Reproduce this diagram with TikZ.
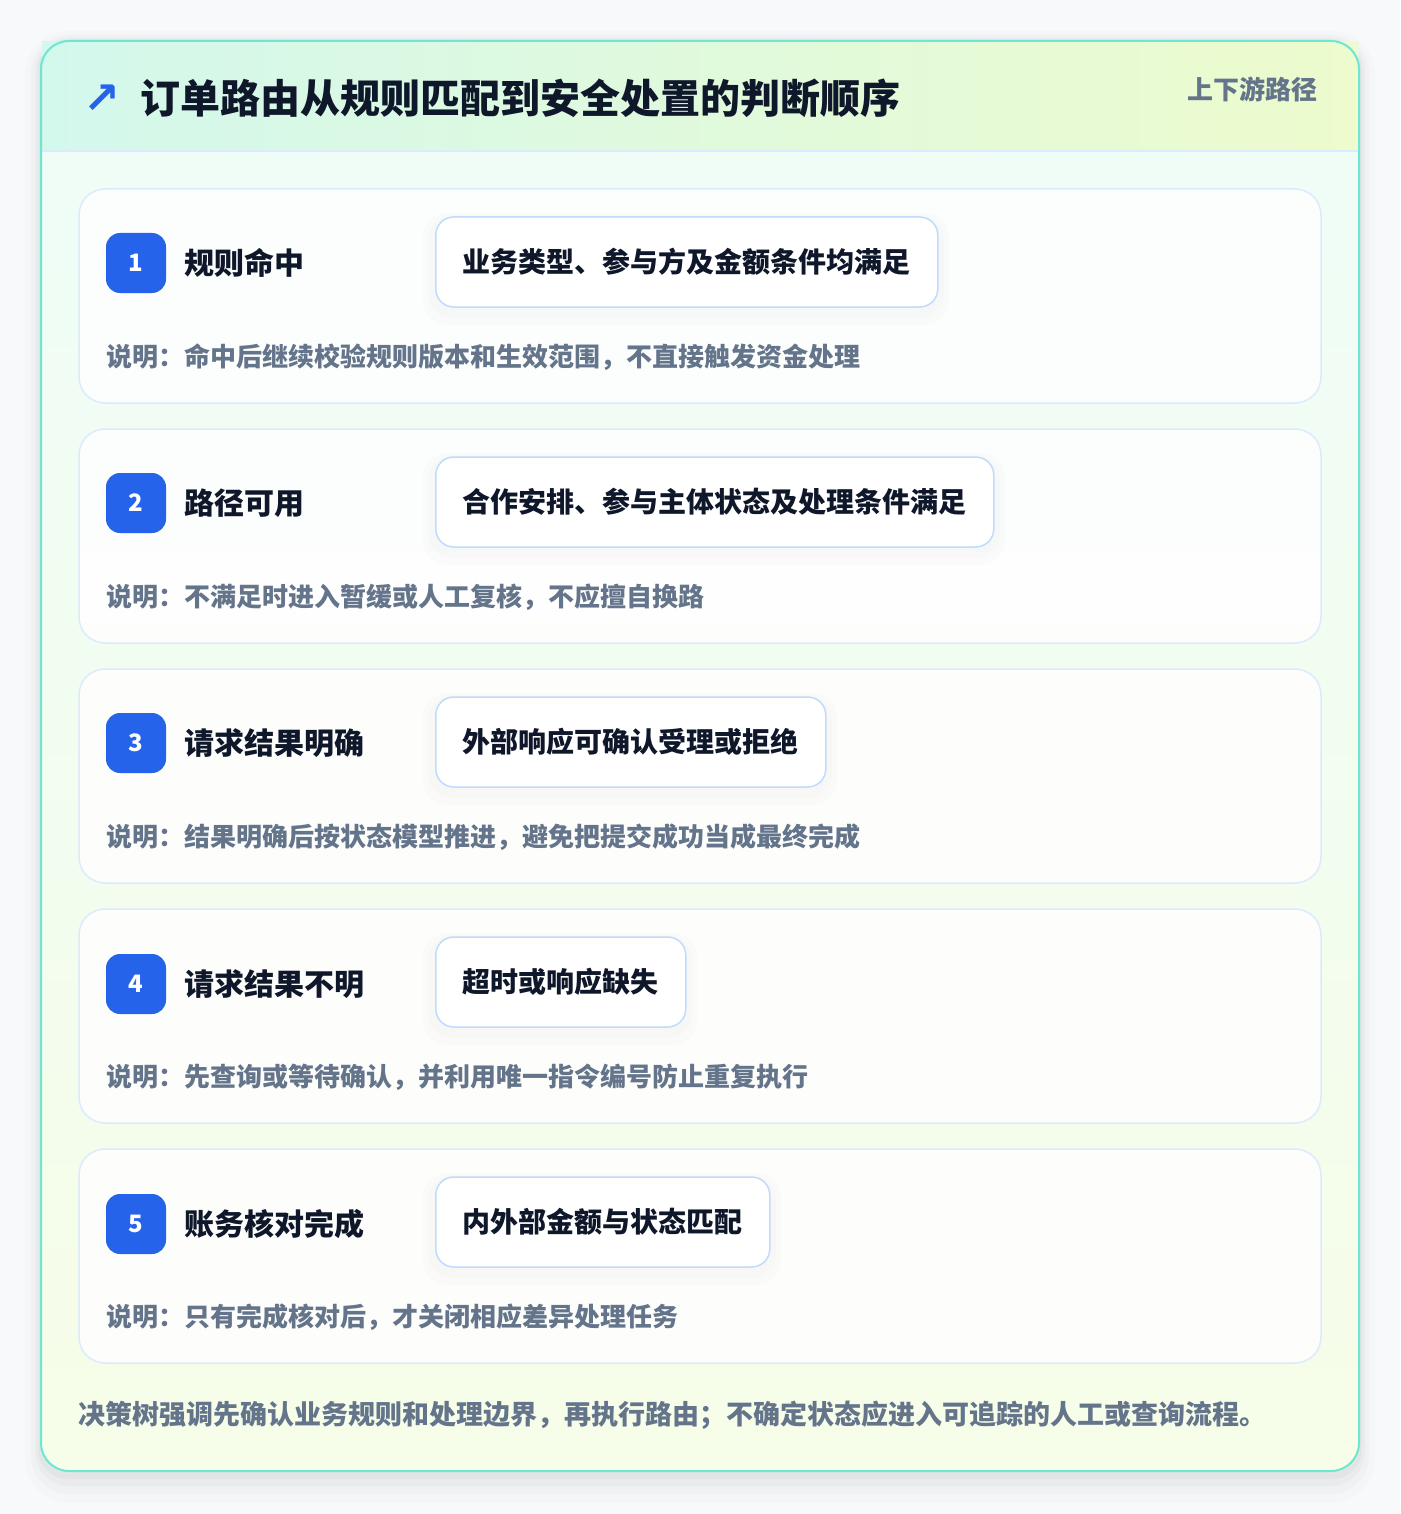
\documentclass[tikz,border=0pt]{standalone}
\usepackage{fontspec}
\setmainfont{Noto Sans CJK SC}
\newfontfamily\symfont{DejaVu Sans}
\usetikzlibrary{positioning}

\definecolor{pagebg}{HTML}{F8F9FA}
\definecolor{frameline}{HTML}{6EE7D2}
\definecolor{frametop}{HTML}{EFFDF8}
\definecolor{framebot}{HTML}{F6FDE8}
\definecolor{headleft}{HTML}{D3F8EC}
\definecolor{headright}{HTML}{EDFBCD}
\definecolor{cardline}{HTML}{DBEAFE}
\definecolor{condline}{HTML}{BFDBFE}
\definecolor{badgeblue}{HTML}{2563EB}
\definecolor{inkdark}{HTML}{0F172A}
\definecolor{inkgray}{HTML}{64748B}

\begin{document}
\begin{tikzpicture}[x=1pt,y=-1pt,
		card/.style={draw=cardline, line width=1.5pt, fill=white, fill opacity=0.85, text opacity=1, rounded corners=26pt, minimum width=1242pt, minimum height=214pt, inner sep=0pt},
		badge/.style={fill=badgeblue, rounded corners=14pt, minimum size=60pt, inner sep=0pt, text=white, font=\fontsize{24}{26}\selectfont\bfseries},
		stepname/.style={anchor=west, inner sep=0pt, text=inkdark, font=\fontsize{30}{34}\selectfont\bfseries},
		cond/.style={draw=condline, line width=1.5pt, fill=white, rounded corners=18pt, minimum height=90pt, inner xsep=27pt, anchor=west, text=inkdark, font=\fontsize{28}{32}\selectfont\bfseries},
		condshade/.style={black, opacity=0.012, rounded corners=24pt},
		note/.style={anchor=west, inner sep=0pt, text=inkgray, font=\fontsize{26}{30}\selectfont\bfseries}]
	\useasboundingbox (0,0) rectangle (1400,1514);
	\fill [pagebg] (0,0) rectangle (1400,1514);
	% soft shadow of the frame
	\fill [black, opacity=0.012, rounded corners=44pt] (25,31) rectangle (1375,1503);
	\fill [black, opacity=0.018, rounded corners=38pt] (31,35) rectangle (1369,1494);
	\fill [black, opacity=0.022, rounded corners=34pt] (35,38) rectangle (1365,1486);
	\fill [black, opacity=0.028, rounded corners=30pt] (38,40) rectangle (1362,1479);
	% frame and header band
	\shade [top color=frametop, bottom color=framebot, rounded corners=28pt] (41,41) rectangle (1359,1471);
	\shade [left color=headleft, right color=headright] (42,42) rectangle (1358,151);
	\draw [cardline, line width=1.5pt] (42,151) -- (1358,151);
	\draw [frameline, line width=2pt, rounded corners=28pt] (41,41) rectangle (1359,1471);
	\node [inner sep=0pt, text=badgeblue, font=\symfont\bfseries\fontsize{44}{46}\selectfont] (icon) at (102,99) {↗};
	\node [anchor=west, inner sep=0pt, text=inkdark, font=\fontsize{40}{44}\selectfont\bfseries] (title) at (140,98) {订单路由从规则匹配到安全处置的判断顺序};
	\node [anchor=east, inner sep=0pt, text=inkgray, font=\fontsize{26}{30}\selectfont\bfseries] (tag) at (1318,89) {上下游路径};

	% step 1
	\node [card] (card1) at (700,296) {};
	\node [badge] (badge1) at (136,263) {1};
	\node [stepname, right=18pt of badge1] (name1) {规则命中};
	\fill [condshade] (423,213) rectangle (949,325);
	\fill [condshade] (428,216) rectangle (944,318);
	\node [cond] (cond1) at (435,262) {业务类型、参与方及金额条件均满足};
	\node [note] (note1) at (106,357) {说明：命中后继续校验规则版本和生效范围，不直接触发资金处理};

	% step 2
	\node [card] (card2) at (700,536) {};
	\node [badge] (badge2) at (136,503) {2};
	\node [stepname, right=18pt of badge2] (name2) {路径可用};
	\fill [condshade] (423,453) rectangle (1005,565);
	\fill [condshade] (428,456) rectangle (1000,558);
	\node [cond] (cond2) at (435,502) {合作安排、参与主体状态及处理条件满足};
	\node [note] (note2) at (106,597) {说明：不满足时进入暂缓或人工复核，不应擅自换路};

	% step 3
	\node [card] (card3) at (700,776) {};
	\node [badge] (badge3) at (136,743) {3};
	\node [stepname, right=18pt of badge3] (name3) {请求结果明确};
	\fill [condshade] (423,693) rectangle (837,805);
	\fill [condshade] (428,696) rectangle (832,798);
	\node [cond] (cond3) at (435,742) {外部响应可确认受理或拒绝};
	\node [note] (note3) at (106,837) {说明：结果明确后按状态模型推进，避免把提交成功当成最终完成};

	% step 4
	\node [card] (card4) at (700,1016) {};
	\node [badge] (badge4) at (136,984) {4};
	\node [stepname, right=18pt of badge4] (name4) {请求结果不明};
	\fill [condshade] (423,933) rectangle (697,1045);
	\fill [condshade] (428,936) rectangle (692,1038);
	\node [cond] (cond4) at (435,982) {超时或响应缺失};
	\node [note] (note4) at (106,1077) {说明：先查询或等待确认，并利用唯一指令编号防止重复执行};

	% step 5
	\node [card] (card5) at (700,1256) {};
	\node [badge] (badge5) at (136,1224) {5};
	\node [stepname, right=18pt of badge5] (name5) {账务核对完成};
	\fill [condshade] (423,1173) rectangle (781,1285);
	\fill [condshade] (428,1176) rectangle (776,1278);
	\node [cond] (cond5) at (435,1222) {内外部金额与状态匹配};
	\node [note] (note5) at (106,1317) {说明：只有完成核对后，才关闭相应差异处理任务};

	\node [anchor=west, inner sep=0pt, text=inkgray, font=\fontsize{27}{31}\selectfont\bfseries] (footer) at (78,1415) {决策树强调先确认业务规则和处理边界，再执行路由；不确定状态应进入可追踪的人工或查询流程。};
\end{tikzpicture}
\end{document}
